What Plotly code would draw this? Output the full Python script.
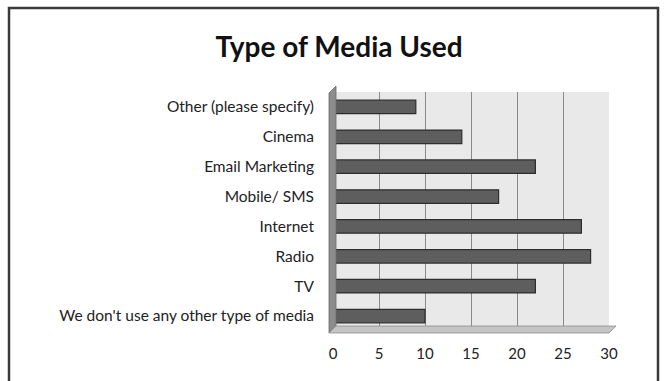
import plotly.graph_objects as go

# Survey responses per media type (bottom to top on the chart)
categories = [
    "We don't use any other type of media",
    "TV",
    "Radio",
    "Internet",
    "Mobile/ SMS",
    "Email Marketing",
    "Cinema",
    "Other (please specify)",
]
responses = [10, 22, 28, 27, 18, 22, 14, 9]
x_ticks = [0, 5, 10, 15, 20, 25, 30]

W, H = 667, 381
L, R, T, B = 333, 58, 92, 50
pw, ph = W - L - R, H - T - B


def px(x):
    return (x - L) / pw


def py(y):
    return (H - B - y) / ph


fig = go.Figure()
fig.add_trace(go.Bar(
    x=responses,
    y=categories,
    orientation="h",
    marker=dict(color="#5e5e5e", line=dict(color="#2e2e2e", width=1.2)),
    width=0.45,
    hoverinfo="x+y",
))

shapes = [
    # outer chart frame
    dict(type="rect", xref="paper", yref="paper",
         x0=px(9), x1=px(658), y0=py(395), y1=py(8),
         line=dict(color="#3a3a3a", width=2.5), layer="below"),
    # side wall
    dict(type="path", xref="paper", yref="paper",
         path=f"M {px(329)} {py(333)} L {px(329)} {py(93)} L {px(336)} {py(86)} "
              f"L {px(336)} {py(326)} Z",
         fillcolor="#8c8c8c", line=dict(color="#6a6a6a", width=0.8), layer="above"),
    # floor
    dict(type="path", xref="paper", yref="paper",
         path=f"M {px(329)} {py(333)} L {px(336)} {py(326)} L {px(616)} {py(326)} "
              f"L {px(609)} {py(333)} Z",
         fillcolor="#c4c4c4", line=dict(color="#8e8e8e", width=0.8), layer="above"),
]

fig.update_layout(
    width=W, height=H,
    margin=dict(l=L, r=R, t=T, b=B),
    paper_bgcolor="white",
    plot_bgcolor="#e9e9e9",
    showlegend=False,
    bargap=0.55,
    font=dict(family="Lato, 'Open Sans', sans-serif", color="#1a1a1a"),
    title=dict(
        text="<b>Type of Media Used</b>",
        x=339 / W, xref="container", xanchor="center",
        y=1 - 47 / H, yref="container", yanchor="middle",
        font=dict(size=28, color="#111111", family="Lato, 'Open Sans', sans-serif"),
    ),
    xaxis=dict(
        range=[0, 30],
        tickvals=x_ticks,
        ticktext=[str(v) for v in x_ticks],
        showgrid=True, gridcolor="#8a8a8a", gridwidth=1,
        zeroline=False, showline=False, ticks="",
        tickfont=dict(size=15, color="#222222"),
        ticklabelstandoff=12,
        fixedrange=True,
    ),
    yaxis=dict(
        categoryorder="array", categoryarray=categories,
        showgrid=False, zeroline=False, showline=False, ticks="",
        tickfont=dict(size=15.5, color="#222222"),
        ticklabelstandoff=18,
        fixedrange=True,
    ),
    shapes=shapes,
)

fig.write_html("out.html")
